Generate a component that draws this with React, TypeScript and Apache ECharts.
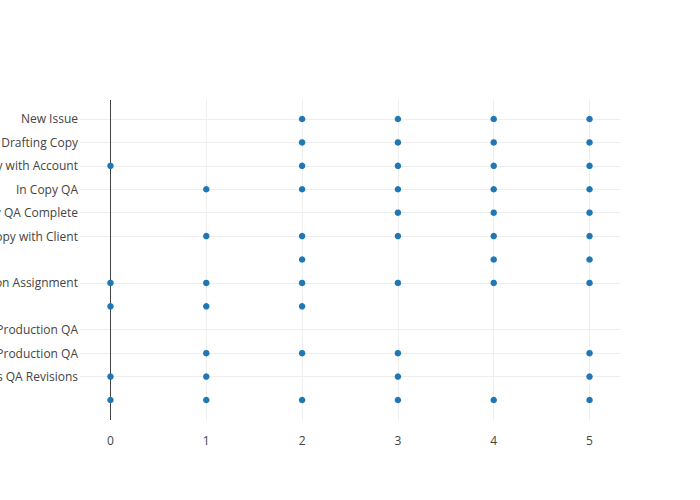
import React, { useEffect, useRef } from "react";
import * as echarts from "echarts";

const categories: string[] = [
  "New Issue",
  "In Drafting Copy",
  "Copy with Account",
  "In Copy QA",
  "Copy QA Complete",
  "Copy with Client",
  "",
  "Production Assignment",
  "",
  "Awaiting Production QA",
  "In Production QA",
  "Address QA Revisions",
  "",
];

// x values of the points in each category row (same order as categories)
const rowValues: number[][] = [
  [2, 3, 4, 5],
  [2, 3, 4, 5],
  [0, 2, 3, 4, 5],
  [1, 2, 3, 4, 5],
  [3, 4, 5],
  [1, 2, 3, 4, 5],
  [2, 4, 5],
  [0, 1, 2, 3, 4, 5],
  [0, 1, 2],
  [],
  [1, 2, 3, 5],
  [0, 1, 3, 5],
  [0, 1, 2, 3, 4, 5],
];

const xTicks: number[] = [0, 1, 2, 3, 4, 5];

export default function App() {
  const ref = useRef<HTMLDivElement>(null);
  useEffect(() => {
    if (!ref.current) return;
    const chart = echarts.init(ref.current, null, { renderer: "svg" });
    const data: number[][] = [];
    rowValues.forEach((xs, row) => xs.forEach((x) => data.push([x, row])));
    const namedRows = categories
      .map((c, i) => (c ? i : -1))
      .filter((i) => i >= 0);
    const font = '"Open Sans", verdana, arial, sans-serif';
    chart.setOption({
      animation: false,
      backgroundColor: "#fff",
      textStyle: { fontFamily: font },
      grid: {
        left: 80,
        right: 80,
        top: 100,
        bottom: 80,
        containLabel: false,
        outerBoundsMode: "none",
      },
      xAxis: {
        type: "value",
        min: -0.318,
        max: 5.318,
        axisLine: { show: false },
        axisTick: { show: false, customValues: xTicks },
        axisLabel: {
          customValues: xTicks,
          color: "#444",
          fontSize: 12,
          fontFamily: font,
          margin: 14,
        },
        splitLine: {
          show: true,
          lineStyle: { color: ["#444", "#eee", "#eee", "#eee", "#eee", "#eee"], width: 1 },
        },
      },
      yAxis: {
        type: "value",
        inverse: true,
        min: -0.811,
        max: 12.854,
        axisLine: { show: false },
        axisTick: { show: false, customValues: namedRows },
        axisLabel: {
          customValues: namedRows,
          formatter: (v: number) => categories[Math.round(v)] ?? "",
          color: "#444",
          fontSize: 12,
          fontFamily: font,
          margin: 2,
        },
        splitLine: { show: true, lineStyle: { color: "#eee", width: 1 } },
      },
      series: [
        {
          type: "scatter",
          data,
          symbol: "circle",
          symbolSize: 6.5,
          itemStyle: { color: "#1f77b4", opacity: 1 },
        },
      ],
    });
    return () => chart.dispose();
  }, []);
  return (
    <div
      ref={ref}
      style={{ position: "fixed", left: 0, top: 0, width: 700, height: 500 }}
    />
  );
}
